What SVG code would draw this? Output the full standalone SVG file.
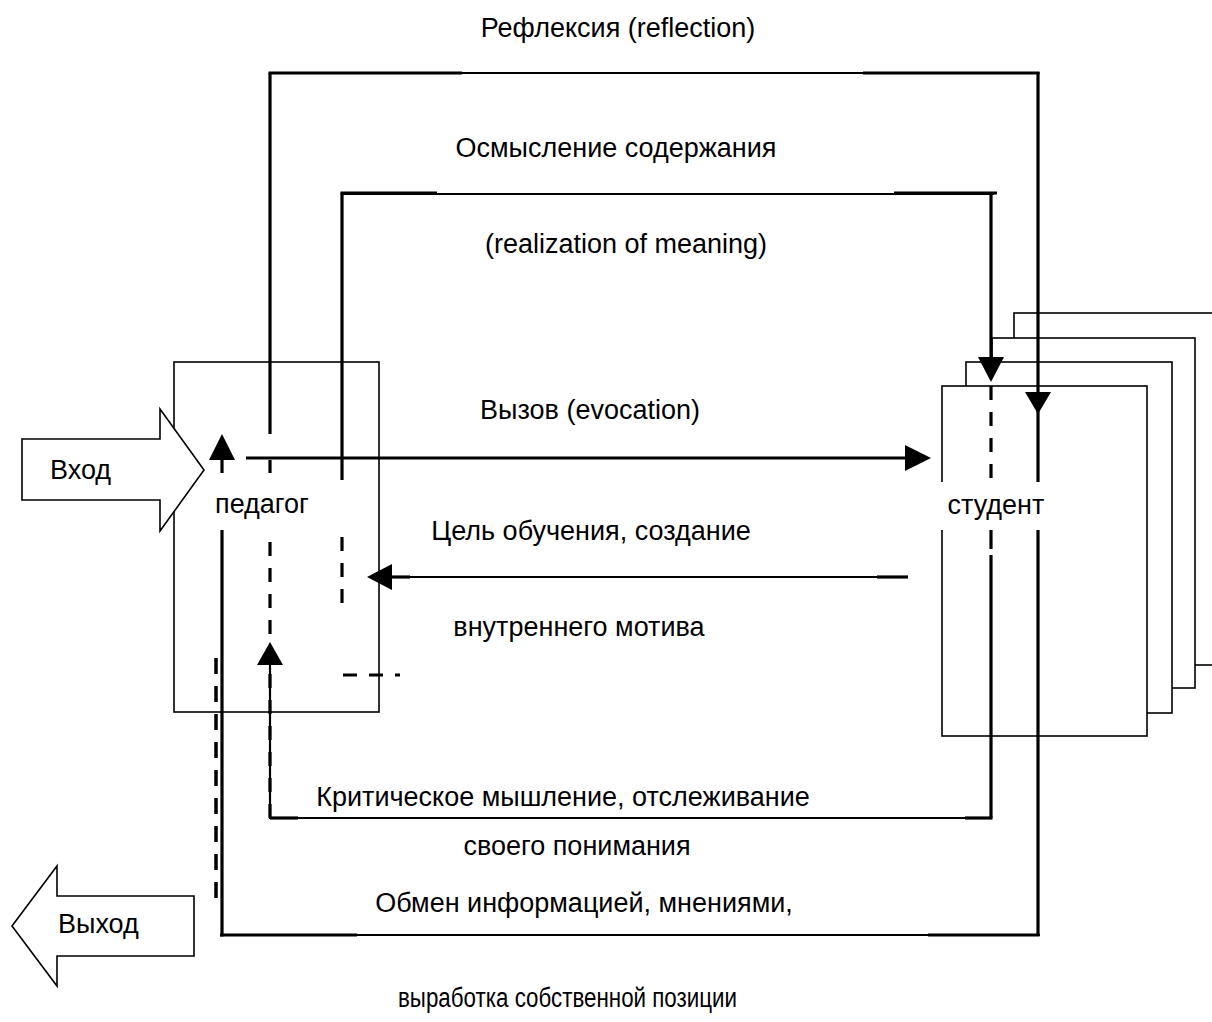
<svg xmlns="http://www.w3.org/2000/svg" width="1212" height="1022" viewBox="0 0 1212 1022">
<style>
.box{fill:#fff;stroke:#000;stroke-width:1.6}
.thick{stroke:#000;stroke-width:3.2;fill:none}
.thin{stroke:#000;stroke-width:2.2;fill:none}
.dash{stroke:#000;stroke-width:3.2;fill:none;stroke-dasharray:14 12}
.head{fill:#000}
text{font-family:"Liberation Sans",Arial,sans-serif;font-size:27px;fill:#000}
.c{text-anchor:middle}
</style>
<rect width="1212" height="1022" fill="#fff"/>
<g id="pedagog">
<rect class="box" x="174" y="362" width="205" height="350"/>
</g>
<g id="vhod">
<polygon class="box" points="22,439 160,439 160,409 204,470 160,531 160,500 22,500"/>
<text x="50" y="479">Вход</text>
</g>
<g id="vyhod">
<polygon class="box" points="12,926 57,866 57,896 194,896 194,956 57,956 57,986"/>
<text x="58" y="933">Выход</text>
</g>
<g id="student">
<rect class="box" x="1014" y="313" width="220" height="352"/>
<rect class="box" x="992" y="338" width="203" height="350"/>
<rect class="box" x="966" y="362" width="206" height="351"/>
<rect class="box" x="942" y="386" width="205" height="350"/>
</g>
<g id="connectors">
<!-- Reflection loop -->
<line class="thick" x1="270" y1="434" x2="270" y2="73"/>
<line class="thin" x1="270" y1="73" x2="1038" y2="73"/>
<line class="thick" x1="268.5" y1="73" x2="462" y2="73"/>
<line class="thick" x1="863" y1="73" x2="1039.5" y2="73"/>
<line class="thick" x1="1038" y1="72" x2="1038" y2="395"/>
<polygon class="head" points="1025,392 1051,392 1038,414"/>
<line class="thick" x1="1038" y1="410" x2="1038" y2="482"/>
<line class="thick" x1="1038" y1="530" x2="1038" y2="935"/>
<line class="thin" x1="220" y1="935" x2="1040" y2="935"/>
<line class="thick" x1="220" y1="935" x2="357" y2="935"/>
<line class="thick" x1="928" y1="935" x2="1039.5" y2="935"/>
<line class="thick" x1="222" y1="936.5" x2="222" y2="530"/>
<line class="thick" x1="222" y1="473" x2="222" y2="455"/>
<polygon class="head" points="209,460 235,460 222,434"/>
<line x1="216" y1="658" x2="216" y2="902" stroke="#000" stroke-width="3.5" stroke-dasharray="16 12"/>
<!-- Realization loop -->
<line class="thick" x1="342" y1="480" x2="342" y2="193"/>
<line class="thin" x1="342" y1="194" x2="994" y2="194"/>
<line class="thick" x1="340.5" y1="193" x2="437" y2="193"/>
<line class="thick" x1="894" y1="193" x2="997" y2="193"/>
<line class="thick" x1="991" y1="192" x2="991" y2="362"/>
<polygon class="head" points="978,357 1004,357 991,382"/>
<line class="dash" x1="991" y1="386" x2="991" y2="482" stroke-dasharray="10 8"/>
<line class="thick" x1="991" y1="530" x2="991" y2="549"/>
<line class="thick" x1="991" y1="555" x2="991" y2="818"/>
<line class="thin" x1="270" y1="818" x2="991" y2="818"/>
<line class="thick" x1="270" y1="818" x2="298" y2="818"/>
<line class="thick" x1="965" y1="818" x2="992.5" y2="818"/>
<line class="thin" x1="270" y1="819" x2="270" y2="660"/>
<line class="dash" x1="270" y1="818" x2="270" y2="665" stroke-dasharray="18 6"/>
<polygon class="head" points="257,665 283,665 270,642"/>
<line class="dash" x1="270" y1="542" x2="270" y2="640"/>
<line class="thick" x1="270" y1="460" x2="270" y2="473"/>
<line class="dash" x1="342" y1="537" x2="342" y2="610" stroke-dasharray="15 13"/>
<line class="dash" x1="343" y1="675" x2="400" y2="675" stroke-dasharray="15 11"/>
<!-- Evocation -->
<line class="thick" x1="246" y1="458" x2="910" y2="458"/>
<polygon class="head" points="905,445 905,471 931,458"/>
<!-- Goal -->
<line class="thin" x1="390" y1="577" x2="908" y2="577"/>
<line class="thick" x1="877" y1="577" x2="908" y2="577"/>
<line class="thick" x1="390" y1="577" x2="410" y2="577"/>
<polygon class="head" points="392,564 392,590 367,577"/>
</g>
<rect x="939" y="482" width="110" height="48" fill="#fff"/>
<g id="labels">
<text class="c" x="618" y="37">Рефлексия (reflection)</text>
<text class="c" x="616" y="157">Осмысление содержания</text>
<text class="c" x="626" y="253">(realization of meaning)</text>
<text class="c" x="590" y="419">Вызов (evocation)</text>
<text class="c" x="262" y="513">педагог</text>
<text class="c" x="996" y="514">студент</text>
<text class="c" x="591" y="540">Цель обучения, создание</text>
<text class="c" x="579" y="636">внутреннего мотива</text>
<text class="c" x="563" y="806">Критическое мышление, отслеживание</text>
<text class="c" x="577" y="855">своего понимания</text>
<text class="c" x="584" y="912">Обмен информацией, мнениями,</text>
<text x="398" y="1007" textLength="339" lengthAdjust="spacingAndGlyphs">выработка собственной позиции</text>
</g>
</svg>
